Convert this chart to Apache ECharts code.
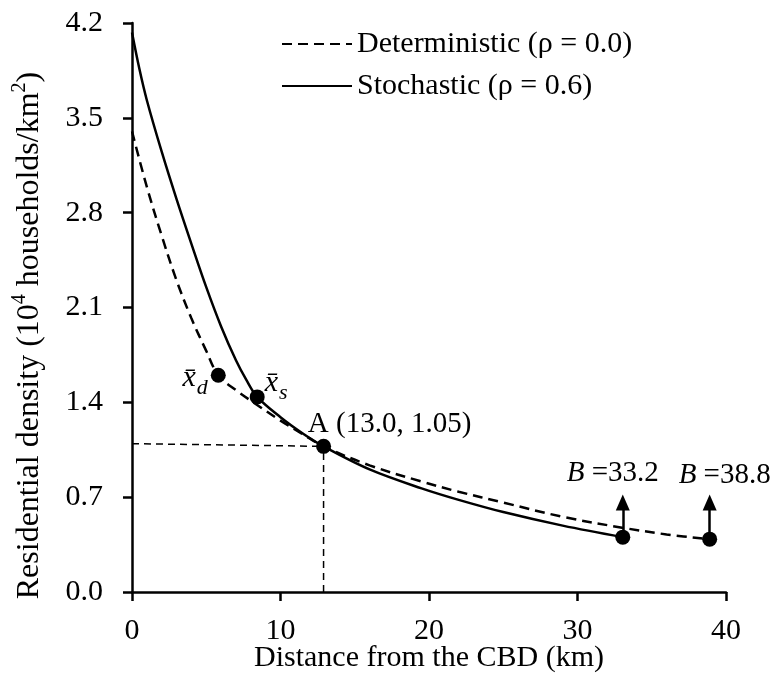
<!DOCTYPE html>
<html><head><meta charset="utf-8">
<script src="https://cdn.jsdelivr.net/npm/echarts@6/dist/echarts.min.js"></script>
<style>html,body{margin:0;padding:0;background:#fff}#c{width:772px;height:681px}</style>
</head><body><div id="c"></div>
<script>
// ---- data ----
const detX = [0, 1, 2, 3, 4, 5, 5.81, 7, 8.5, 10, 11.5, 12.9, 16, 19.5, 22, 25, 29, 33, 36, 38.9];
const detY = [3.40, 2.99, 2.63, 2.30, 2.02, 1.78, 1.60, 1.49, 1.375, 1.265, 1.165, 1.075, 0.935, 0.815, 0.74, 0.66, 0.555, 0.475, 0.425, 0.39];
const stoX = [0, 0.5, 1, 2, 3, 4, 5, 6, 7, 7.7, 8.43, 10, 11.5, 12.9, 16, 19.5, 22, 25, 29, 33.05];
const stoY = [4.13, 3.86, 3.63, 3.25, 2.90, 2.57, 2.25, 1.96, 1.71, 1.565, 1.44, 1.29, 1.17, 1.075, 0.905, 0.765, 0.68, 0.59, 0.49, 0.405];
const pointX = [5.81, 8.43, 12.9, 33.05, 38.9];
const pointY = [1.60, 1.44, 1.075, 0.405, 0.39];
const guideHX = [0, 12.9], guideHY = [1.095, 1.075];
const guideVX = [12.9, 12.9], guideVY = [0, 1.075];
const arrowX = [33.05, 38.9], arrowFromY = [0.405, 0.39], arrowToY = [0.66, 0.66];
const bValues = ['33.2', '38.8'];
const xTicks = [0, 10, 20, 30, 40];
const yTicks = ['0.0', '0.7', '1.4', '2.1', '2.8', '3.5', '4.2'];
const seriesNames = ['Deterministic (\u03C1 = 0.0)', 'Stochastic (\u03C1 = 0.6)'];

const F = 'Liberation Serif';
const zip = (a, b) => a.map((v, i) => [v, b[i]]);

const labelText = [
  '{xi|x\u0304}{sub|d}',
  '{xi|x\u0304}{sub|s}',
  '{n|A (13.0, 1.05)}',
  '{b|B}{n| =' + bValues[0] + '}',
  '{b|B}{n| =' + bValues[1] + '}'
];
const labelPos = [
  {position: 'left', distance: 3, offset: [0, 3]},
  {position: 'right', distance: 0, offset: [0, -14]},
  {position: 'top', distance: 0, offset: [66, 0]},
  {position: 'top', distance: 42, offset: [-10, 0]},
  {position: 'top', distance: 42, offset: [15, 0]}
];
const rich = {
  xi: {fontFamily: F, fontStyle: 'italic', fontSize: 30, lineHeight: 30, verticalAlign: 'top', color: '#000'},
  sub: {fontFamily: F, fontStyle: 'italic', fontSize: 22, lineHeight: 22, padding: [14, 0, 0, 1], verticalAlign: 'top', color: '#000'},
  n: {fontFamily: F, fontSize: 29, color: '#000'},
  b: {fontFamily: F, fontStyle: 'italic', fontSize: 29, color: '#000'}
};

const pointData = pointX.map((x, i) => ({
  value: [x, pointY[i]],
  label: Object.assign({show: true, formatter: labelText[i], rich: rich, fontFamily: F, fontSize: 29, color: '#000'}, labelPos[i])
}));

const arrows = arrowX.map((x, i) => [{coord: [x, arrowFromY[i]]}, {coord: [x, arrowToY[i]]}]);

const chart = echarts.init(document.getElementById('c'), null, {renderer: 'canvas'});
chart.setOption({
  animation: false,
  backgroundColor: '#fff',
  grid: {left: 132, right: 46, top: 23, bottom: 89, containLabel: false, outerBoundsMode: 'none'},
  legend: {
    data: seriesNames,
    orient: 'vertical',
    left: 276, top: 24,
    itemWidth: 70, itemHeight: 14, itemGap: 12,
    itemStyle: {opacity: 0},
    textStyle: {fontFamily: F, fontSize: 30, color: '#000'}
  },
  xAxis: {
    type: 'value', min: xTicks[0], max: xTicks[xTicks.length - 1], interval: xTicks[1] - xTicks[0],
    name: 'Distance from the CBD (km)', nameLocation: 'middle', nameGap: 51, nameMoveOverlap: false,
    nameTextStyle: {fontFamily: F, fontSize: 30, color: '#000'},
    axisLine: {onZero: false, lineStyle: {color: '#000', width: 2.5}},
    axisTick: {length: 9, lineStyle: {color: '#000', width: 2.5}},
    axisLabel: {fontFamily: F, fontSize: 30, color: '#000', margin: 24},
    splitLine: {show: false}
  },
  yAxis: {
    type: 'value', min: 0, max: 4.2, interval: 0.7,
    name: '{t|Residential density (10}{sup|4}{t| households/km}{sup|2}{t|)}',
    nameLocation: 'middle', nameGap: 86, nameMoveOverlap: false,
    nameTextStyle: {
      fontFamily: F, fontSize: 32, color: '#000', padding: [0, 56, 0, 0],
      rich: {
        t: {fontFamily: F, fontSize: 32, lineHeight: 36, verticalAlign: 'bottom', color: '#000'},
        sup: {fontFamily: F, fontSize: 20, lineHeight: 24, verticalAlign: 'top', color: '#000'}
      }
    },
    axisLine: {show: true, onZero: false, lineStyle: {color: '#000', width: 2.5}},
    axisTick: {show: true, length: 9, lineStyle: {color: '#000', width: 2.5}},
    axisLabel: {fontFamily: F, fontSize: 30, color: '#000', margin: 29,
      formatter: (v) => yTicks[Math.round(v / 0.7)] || v.toFixed(1)},
    splitLine: {show: false}
  },
  series: [
    {
      name: seriesNames[0], type: 'line', data: zip(detX, detY),
      smooth: 0.35, symbol: 'none',
      lineStyle: {color: '#000', width: 2.5, type: [10, 6]}, itemStyle: {color: '#000'}, z: 3
    },
    {
      name: seriesNames[1], type: 'line', data: zip(stoX, stoY),
      smooth: 0.35, symbol: 'none',
      lineStyle: {color: '#000', width: 2.5, type: 'solid'}, itemStyle: {color: '#000'}, z: 3
    },
    {
      name: 'guideH', type: 'line', data: zip(guideHX, guideHY), symbol: 'none', silent: true,
      lineStyle: {color: '#000', width: 1.5, type: [7, 5]}, z: 2
    },
    {
      name: 'guideV', type: 'line', data: zip(guideVX, guideVY), symbol: 'none', silent: true,
      lineStyle: {color: '#000', width: 1.5, type: [7, 5]}, z: 2
    },
    {
      name: 'points', type: 'scatter', data: pointData, symbol: 'circle', symbolSize: 15,
      itemStyle: {color: '#000', opacity: 1}, z: 5,
      markLine: {
        silent: true, symbol: ['none', 'triangle'], symbolSize: [14, 16],
        label: {show: false},
        lineStyle: {color: '#000', width: 2.5, type: 'solid', opacity: 1},
        data: arrows
      }
    }
  ]
});
</script>
</body></html>
